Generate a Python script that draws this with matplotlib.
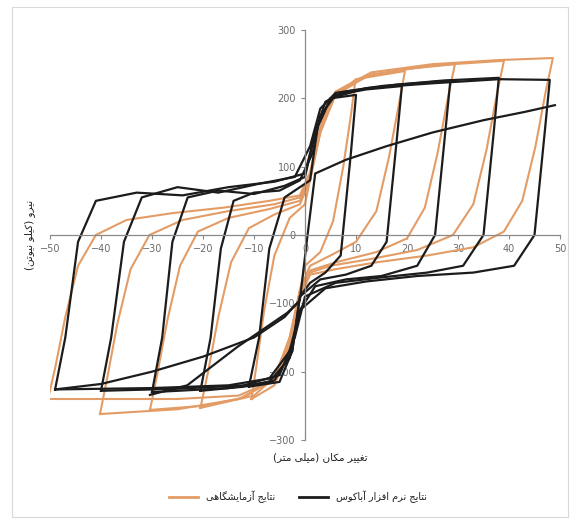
import matplotlib
matplotlib.use("Agg")
import matplotlib.pyplot as plt
from matplotlib.lines import Line2D
from matplotlib.patches import Rectangle
from matplotlib import font_manager
from matplotlib.ft2font import FT2Font

# ---------------- data (mm, kN) ----------------
x_ticks = [-50, -40, -30, -20, -10, 0, 10, 20, 30, 40, 50]
y_ticks = [-300, -200, -100, 0, 100, 200, 300]

exp_label = "نتایج آزمایشگاهی"
fem_label = "نتایج نرم افزار آباکوس"
x_title = "تغییر مکان (میلی متر)"
y_title = "نیرو (کیلو نیوتن)"

# experimental loops (orange)
exp_x = [
    [-10.5, -9.5, -8, -6, -3, 0, 1.5, 3.5, 6, 9.8, 9, 7.5, 5.5, 3, 0, -1.5, -3.5, -6, -10.5],
    [-20.5, -19, -17, -14.5, -11, -6, -1, 1, 3, 5.5, 10, 19.6, 18.5, 16.5, 14, 10, 5, 1, -1, -3, -5.5, -10, -20.5],
    [-30.4, -29, -27, -24.5, -21, -15, -7, -1, 1, 3, 6, 12, 20, 29.4, 28, 26, 23.5, 20, 14, 6, 1, -1, -3, -6, -12, -20, -30.4],
    [-40.2, -38.8, -36.8, -34.2, -30.5, -24, -15, -6, -1, 1, 3, 6, 13, 25, 39, 37.6, 35.6, 33, 29, 22, 13, 5, 1, -1, -3, -6, -13, -25, -40.2],
    [-50.4, -49, -47, -44.5, -41, -35, -26, -16, -7, -1, 1, 3, 6, 13, 25, 38, 48.6, 47.2, 45.2, 42.6, 39, 33, 24, 14, 6, 1, -1, -3, -6, -13, -25, -38, -50.4],
]
exp_y = [
    [-240, -190, -110, -30, 25, 45, 100, 170, 205, 222, 175, 100, 20, -25, -45, -100, -175, -220, -240],
    [-253, -200, -120, -40, 10, 30, 45, 80, 150, 200, 228, 240, 195, 115, 35, -10, -30, -45, -80, -150, -205, -235, -253],
    [-256, -205, -125, -45, 5, 25, 38, 50, 85, 150, 205, 232, 243, 250, 200, 120, 40, -5, -25, -40, -52, -85, -150, -208, -238, -250, -256],
    [-262, -210, -130, -50, 0, 22, 35, 45, 55, 90, 155, 208, 235, 248, 255, 205, 125, 45, 0, -22, -35, -45, -55, -90, -155, -212, -240, -255, -262],
    [-240, -195, -120, -45, 0, 22, 32, 40, 50, 58, 92, 158, 210, 238, 250, 256, 259, 210, 130, 50, 5, -18, -30, -40, -50, -58, -92, -160, -212, -235, -240, -240, -240],
]

# numerical loops (black)
fem_x = [
    [-11, -9, -7, -4, -1, 1, 2.5, 5, 10, 9, 7, 4, 1, -1, -2.5, -5, -11],
    [-20.5, -18.5, -16.5, -14, -10, -5, -1, 1.5, 3, 6, 12, 19, 18, 16, 13, 8, 3, -1, -2.5, -6, -12, -20.5],
    [-30, -28, -26, -23, -17, -10, -4, 0, 2, 4, 8, 18, 28.5, 27.5, 25.5, 22, 15, 8, 2, -1, -3, -7, -15, -30],
    [-40, -38, -35.5, -32, -25, -17, -9, -2, 1, 3, 6, 15, 27, 38, 37, 35, 31, 24, 15, 6, 0, -2, -5, -12, -25, -40],
    [-49, -47, -44.5, -41, -33, -24, -15, -6, 0, 2, 5, 12, 25, 38, 48, 47, 45, 41, 33, 22, 12, 4, -1, -3, -7, -15, -30, -49],
    [-49, -40, -30, -20, -10, -4, -1, 0.5, 2, 8, 16, 25, 35, 43, 49],
    [-30.4, -23.1, -13.3, -3.5, -1.5],
]
fem_y = [
    [-222, -150, -20, 55, 70, 80, 160, 200, 205, 120, -30, -55, -70, -90, -170, -215, -222],
    [-228, -150, -20, 50, 62, 65, 80, 120, 175, 205, 213, 218, 140, -10, -45, -58, -65, -90, -170, -213, -222, -228],
    [-230, -150, -10, 55, 65, 60, 72, 85, 150, 195, 210, 220, 226, 150, 0, -45, -60, -65, -75, -110, -180, -215, -224, -230],
    [-228, -150, -10, 55, 70, 62, 75, 85, 130, 185, 208, 218, 226, 230, 150, 0, -45, -55, -62, -70, -90, -150, -205, -220, -225, -228],
    [-226, -150, -10, 50, 62, 58, 70, 78, 90, 150, 200, 215, 222, 228, 227, 150, 0, -45, -55, -60, -68, -78, -110, -170, -210, -220, -224, -226],
    [-226, -218, -200, -178, -150, -120, -95, 0, 90, 110, 130, 150, 168, 180, 190],
    [-234, -220, -164, -114, -100],
]

# ---------------- Persian shaping helper ----------------
FORMS = {
    'ا': ('\uFE8D', '\uFE8E', None, None),
    'آ': ('\uFE81', '\uFE82', None, None),
    'ب': ('\uFE8F', '\uFE90', '\uFE91', '\uFE92'),
    'ت': ('\uFE95', '\uFE96', '\uFE97', '\uFE98'),
    'ج': ('\uFE9D', '\uFE9E', '\uFE9F', '\uFEA0'),
    'ر': ('\uFEAD', '\uFEAE', None, None),
    'ز': ('\uFEAF', '\uFEB0', None, None),
    'س': ('\uFEB1', '\uFEB2', '\uFEB3', '\uFEB4'),
    'ش': ('\uFEB5', '\uFEB6', '\uFEB7', '\uFEB8'),
    'غ': ('\uFECD', '\uFECE', '\uFECF', '\uFED0'),
    'ف': ('\uFED1', '\uFED2', '\uFED3', '\uFED4'),
    'ل': ('\uFEDD', '\uFEDE', '\uFEDF', '\uFEE0'),
    'م': ('\uFEE1', '\uFEE2', '\uFEE3', '\uFEE4'),
    'ن': ('\uFEE5', '\uFEE6', '\uFEE7', '\uFEE8'),
    'ه': ('\uFEE9', '\uFEEA', '\uFEEB', '\uFEEC'),
    'و': ('\uFEED', '\uFEEE', None, None),
    'ک': ('\uFB8E', '\uFB8F', '\uFB90', '\uFB91'),
    'گ': ('\uFB92', '\uFB93', '\uFB94', '\uFB95'),
    'ی': ('\uFBFC', '\uFBFD', '\uFBFE', '\uFBFF'),
}
_font = FT2Font(font_manager.findfont("DejaVu Sans"))


def _has(ch):
    try:
        return _font.get_char_index(ord(ch)) != 0
    except Exception:
        return False


def rtl(s):
    out = []
    n = len(s)
    for i, c in enumerate(s):
        if c not in FORMS:
            out.append(c)
            continue
        prev = s[i - 1] if i > 0 else ''
        nxt = s[i + 1] if i + 1 < n else ''
        jp = prev in FORMS and FORMS[prev][2] is not None
        jn = FORMS[c][2] is not None and nxt in FORMS
        iso, fin, ini, med = FORMS[c]
        if jp and jn:
            g = med
        elif jp:
            g = fin
        elif jn:
            g = ini
        else:
            g = iso
        out.append(g if (g and _has(g)) else c)
    vis = ''.join(reversed(out))
    return vis.translate(str.maketrans('()', ')('))


# ---------------- figure ----------------
W, H = 576, 523
fig = plt.figure(figsize=(W / 100, H / 100), dpi=100)
fig.patch.set_facecolor('white')
ax = fig.add_axes([50 / W, 1 - 440 / H, 510 / W, 410 / H])

orange = '#E39C66'
black = '#1c1c1c'
for xs, ys in zip(exp_x, exp_y):
    ax.plot(xs, ys, color=orange, lw=1.5, solid_joinstyle='round')
for xs, ys in zip(fem_x, fem_y):
    ax.plot(xs, ys, color=black, lw=1.6, solid_joinstyle='round')

ax.set_xlim(-50, 50)
ax.set_ylim(-300, 300)
for s in ['top', 'right']:
    ax.spines[s].set_visible(False)
ax.spines['left'].set_position(('data', 0))
ax.spines['bottom'].set_position(('data', 0))
for s in ['left', 'bottom']:
    ax.spines[s].set_color('#8a8a8a')
    ax.spines[s].set_linewidth(0.9)
ax.set_xticks(x_ticks)
ax.set_yticks(y_ticks)
ax.tick_params(colors='#8a8a8a', labelcolor='#6a6a6a', labelsize=7, length=3, width=0.8)
ax.patch.set_alpha(0)

fig.text(30 / W, 1 - 235 / H, rtl(y_title), rotation=90, ha='center', va='center',
         fontsize=7.5, color='#202020', family='DejaVu Sans')
fig.text(320 / W, 1 - 457 / H, rtl(x_title), ha='center', va='center',
         fontsize=7.5, color='#202020', family='DejaVu Sans')

handles = [Line2D([], [], color=orange, lw=2), Line2D([], [], color=black, lw=2)]
fig.legend(handles, [rtl(exp_label), rtl(fem_label)], loc='center',
           bbox_to_anchor=(298 / W, 1 - 497 / H), ncol=2, frameon=False,
           handlelength=3, columnspacing=2.5, labelcolor='#202020',
           prop={'family': 'DejaVu Sans', 'size': 7})

fig.patches.append(Rectangle((12 / W, 6 / H), 556 / W, 510 / H, transform=fig.transFigure,
                             fill=False, edgecolor='#d9d9d9', lw=0.8))

fig.savefig('out.png', dpi=100, facecolor='white')
